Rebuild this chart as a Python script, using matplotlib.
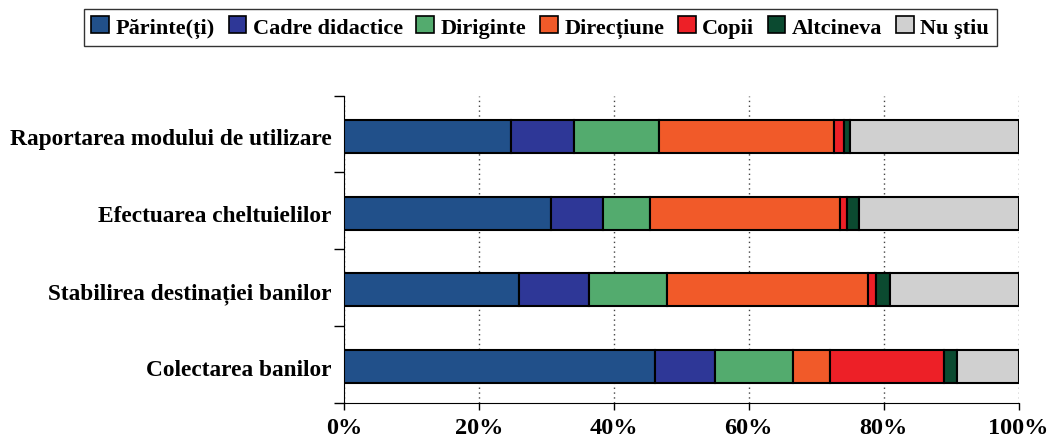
import numpy as np
import matplotlib
matplotlib.use("Agg")
import matplotlib.pyplot as plt
from matplotlib.patches import Patch

plt.rcParams['font.family'] = ['Liberation Serif', 'DejaVu Serif']
plt.rcParams['font.weight'] = 'bold'

# categories from top to bottom
categories = ["Raportarea modului de utilizare",
              "Efectuarea cheltuielilor",
              "Stabilirea destinației banilor",
              "Colectarea banilor"]
series = ["Părinte(ți)", "Cadre didactice", "Diriginte", "Direcțiune",
          "Copii", "Altcineva", "Nu ştiu"]
colors = ["#21508A", "#2E3797", "#53AB6E", "#F15A29", "#ED2027", "#0B4A30", "#D0D0D0"]

parinte   = [24.8, 30.7, 25.9, 46.1]
cadre     = [9.3, 7.7, 10.4, 8.9]
diriginte = [12.6, 7.0, 11.6, 11.5]
directiune = [26.0, 28.1, 29.8, 5.6]
copii     = [1.4, 1.0, 1.2, 16.9]
altcineva = [0.9, 1.8, 2.1, 1.9]
nu_stiu   = [25.0, 23.7, 19.0, 9.1]
values = [parinte, cadre, diriginte, directiune, copii, altcineva, nu_stiu]

fig = plt.figure(figsize=(10.49, 4.39), dpi=100)
ax = fig.add_axes([0.328, 0.08, 0.643, 0.70])

y = np.arange(len(categories))[::-1]
left = np.zeros(len(categories))
for name, vals, c in zip(series, values, colors):
    vals = np.array(vals)
    ax.barh(y - 0.03, vals, left=left, height=0.43, color=c, edgecolor='black',
            linewidth=1.5, label=name, zorder=3)
    left += vals

ax.set_xlim(0, 100)
ax.set_ylim(-0.5, 3.5)
ax.set_xticks([0, 20, 40, 60, 80, 100])
ax.set_xticklabels([f"{v}%" for v in [0, 20, 40, 60, 80, 100]], fontsize=17.5, fontweight='bold')
ax.set_yticks(y - 0.03)
ax.set_yticklabels(categories, fontsize=16.8, fontweight='bold')
ax.tick_params(axis='y', length=0, pad=9)
ax.tick_params(axis='x', length=5, width=1, pad=5)
ax.set_yticks([-0.5, 0.5, 1.5, 2.5, 3.5], minor=True)
ax.tick_params(axis='y', which='minor', length=7, width=1)

ax.xaxis.grid(True, linestyle=(0, (1, 2.5)), color='#444444', linewidth=1, zorder=0)
ax.spines['top'].set_visible(False)
ax.spines['right'].set_visible(False)

handles = [Patch(facecolor=c, edgecolor='black', linewidth=1.2) for c in colors]
fig.legend(handles, series, loc='center', bbox_to_anchor=(0.515, 0.936), ncol=7,
           frameon=True, fancybox=False, edgecolor='black',
           handlelength=0.8, handleheight=0.8, handletextpad=0.3,
           columnspacing=0.6, borderpad=0.35, prop={'weight': 'bold', 'size': 16})

fig.savefig('out.png', dpi=100)
